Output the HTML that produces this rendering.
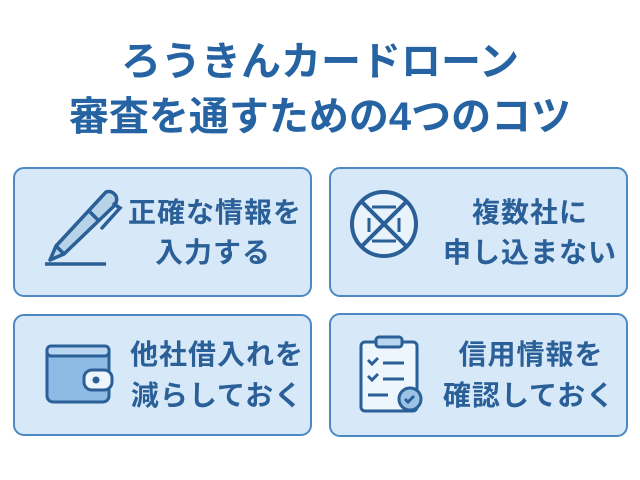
<!DOCTYPE html>
<html><head><meta charset="utf-8"><style>
body{margin:0;width:640px;height:480px;background:#fff;overflow:hidden;font-family:"Liberation Sans","Noto Sans CJK JP",sans-serif;position:relative}
.t{position:absolute;left:0;width:640px;text-align:center;color:#2563a3;font-weight:bold;font-size:40px;line-height:1;white-space:nowrap}
.c{position:absolute;background:#d7e9f8;border:2px solid #4c88c2;border-radius:11px;box-sizing:border-box}
.x{position:absolute;color:#2a5f98;font-weight:bold;font-size:28px;line-height:1;white-space:nowrap;text-align:center;letter-spacing:1px}
svg{position:absolute}
</style></head><body>
<div class="t" style="top:42px">ろうきんカードローン</div>
<div class="t" style="top:97px">審査を通すための4つのコツ</div>

<div class="c" style="left:13px;top:167px;width:299px;height:130px"></div>
<div class="c" style="left:329px;top:167px;width:299px;height:130px"></div>
<div class="c" style="left:13px;top:314px;width:299px;height:122px"></div>
<div class="c" style="left:329px;top:313px;width:299px;height:124px"></div>

<!-- pen -->
<svg style="left:40px;top:186px" width="84" height="84" viewBox="0 0 84 84">
<path d="M66 6 Q72 4 76 10 Q78 15 74 20 L24 68 L10 74 L16 60 Z" fill="#b6d3e8" stroke="#2a5f98" stroke-width="3.5" stroke-linejoin="round"/>
<line x1="50" y1="26" x2="58" y2="34" stroke="#2a5f98" stroke-width="3.5"/>
<line x1="16" y1="60" x2="24" y2="68" stroke="#2a5f98" stroke-width="3.5"/>
<path d="M74 18 L80 22 L62 42" fill="none" stroke="#2a5f98" stroke-width="3.5" stroke-linecap="round"/>
<line x1="5" y1="78" x2="66" y2="78" stroke="#2a5f98" stroke-width="3.5"/>
</svg>
<!-- no sign -->
<svg style="left:350px;top:190px" width="68" height="68" viewBox="0 0 68 68">
<circle cx="34" cy="34" r="32" fill="#e8f3fc" stroke="#2a5f98" stroke-width="4"/>
<line x1="22" y1="17" x2="46" y2="17" stroke="#2a5f98" stroke-width="3"/>
<line x1="22" y1="51" x2="46" y2="51" stroke="#2a5f98" stroke-width="3"/>
<line x1="19" y1="28" x2="19" y2="42" stroke="#2a5f98" stroke-width="3"/>
<line x1="49" y1="28" x2="49" y2="42" stroke="#2a5f98" stroke-width="3"/>
<line x1="11" y1="11" x2="57" y2="57" stroke="#2a5f98" stroke-width="4"/>
<line x1="57" y1="11" x2="11" y2="57" stroke="#2a5f98" stroke-width="4"/>
</svg>
<!-- wallet -->
<svg style="left:44px;top:343px" width="70" height="62" viewBox="0 0 70 62">
<rect x="3" y="3" width="62" height="56" rx="6" fill="#8dbbe3" stroke="#2a5f98" stroke-width="3"/>
<rect x="3" y="3" width="62" height="10" rx="4" fill="#b8d6ef" stroke="#2a5f98" stroke-width="3"/>
<rect x="40" y="27" width="28" height="20" rx="8" fill="#eef6fd" stroke="#2a5f98" stroke-width="3"/>
<circle cx="52" cy="37" r="3.5" fill="#2a5f98"/>
</svg>
<!-- clipboard -->
<svg style="left:356px;top:333px" width="70" height="82" viewBox="0 0 70 82">
<rect x="5" y="9" width="56" height="69" rx="4" fill="#eef6fd" stroke="#2a5f98" stroke-width="3"/>
<rect x="20" y="4" width="26" height="10" rx="3" fill="#b8d6ef" stroke="#2a5f98" stroke-width="3"/>
<path d="M12 27 l4 4 l6 -6 M12 43 l4 4 l6 -6" fill="none" stroke="#2a5f98" stroke-width="3"/>
<path d="M27 30 H48 M27 46 H48 M12 62 H32" stroke="#2a5f98" stroke-width="3"/>
<circle cx="54" cy="66" r="11" fill="#9cc3e4" stroke="#2a5f98" stroke-width="3"/>
<path d="M49 66 l3 3 l6 -6" fill="none" stroke="#2a5f98" stroke-width="3"/>
</svg>

<div class="x" style="left:120px;width:190px;top:199px">正確な情報を</div>
<div class="x" style="left:118px;width:190px;top:239px">入力する</div>
<div class="x" style="left:435px;width:190px;top:199px">複数社に</div>
<div class="x" style="left:435px;width:190px;top:239px">申し込まない</div>
<div class="x" style="left:122px;width:190px;top:341px">他社借入れを</div>
<div class="x" style="left:122px;width:190px;top:382px">減らしておく</div>
<div class="x" style="left:436px;width:190px;top:341px">信用情報を</div>
<div class="x" style="left:434px;width:190px;top:382px">確認しておく</div>
</body></html>
